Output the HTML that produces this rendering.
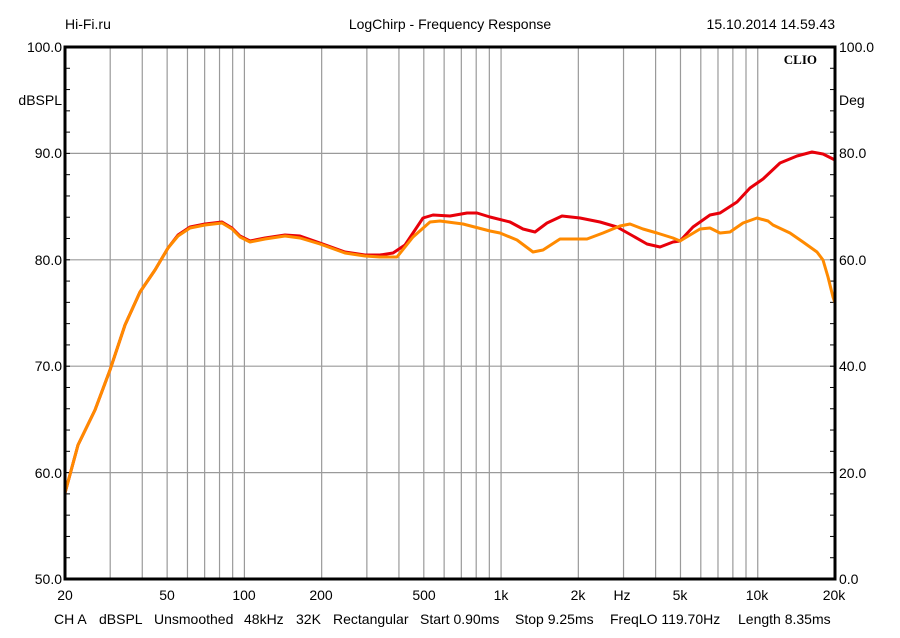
<!DOCTYPE html>
<html><head><meta charset="utf-8"><style>
body{margin:0;background:#fff}
svg text{font-family:"Liberation Sans",Arial,sans-serif;font-size:14px;fill:#000}
</style></head><body>
<svg width="900" height="633" viewBox="0 0 900 633" xmlns="http://www.w3.org/2000/svg">
<rect width="900" height="633" fill="#fff"/>
<g id="grid" stroke="#9a9a9a" stroke-width="1.2"></g>
<g id="ticks" stroke="#000" stroke-width="1"></g>
<polyline fill="none" stroke="#e8000a" stroke-width="3" stroke-linejoin="round" points="65,493 78,445 95,410 110,370 125,325 140,292 155,270 168,248 178,235 190,227 205,224 222,222 232,228 240,236 250,241 265,238 285,235 300,236 320,243 345,252 365,255 380,255 393,253 405,245 423,218 433,215 450,216 467,213 477,213 490,217 510,222 523,229 535,232 547,223 562,216 580,218 600,222 617,227 633,236 647,244 660,247 673,242 680,241 693,227 710,215 720,213 737,202 750,188 763,179 780,163 797,156 812,152 823,154 835,160"/>
<polyline fill="none" stroke="#ff8a00" stroke-width="3" stroke-linejoin="round" points="65,493 78,445 95,410 110,370 125,325 140,292 155,270 168,248 178,236 190,228 205,225 222,223 232,229 240,237 250,242 265,239 285,236 300,238 320,244 345,253 365,256 380,257 397,257 413,237 430,222 440,221 463,224 490,231 500,233 517,240 533,252 543,250 560,239 580,239 587,239 603,233 620,226 630,224 643,229 657,233 673,238 680,241 700,229 710,228 720,233 730,232 743,223 757,218 768,221 773,225 790,233 803,242 817,252 823,260 828,277 833,297 835,303"/>
<rect x="65" y="47" width="770" height="532" fill="none" stroke="#000" stroke-width="3"/>
<text x="65" y="29">Hi-Fi.ru</text>
<text x="450" y="29" text-anchor="middle">LogChirp - Frequency Response</text>
<text x="835" y="29" text-anchor="end">15.10.2014 14.59.43</text>
<text x="62" y="52" text-anchor="end">100.0</text>
<text x="62" y="105" text-anchor="end">dBSPL</text>
<text x="62" y="158" text-anchor="end">90.0</text>
<text x="62" y="265" text-anchor="end">80.0</text>
<text x="62" y="371" text-anchor="end">70.0</text>
<text x="62" y="478" text-anchor="end">60.0</text>
<text x="62" y="584" text-anchor="end">50.0</text>
<text x="839" y="52">100.0</text>
<text x="839" y="105">Deg</text>
<text x="839" y="158">80.0</text>
<text x="839" y="265">60.0</text>
<text x="839" y="371">40.0</text>
<text x="839" y="478">20.0</text>
<text x="839" y="584">0.0</text>
<text x="817" y="64" text-anchor="end" style="font-family:'Liberation Serif',serif;font-weight:bold;font-size:13px">CLIO</text>
<g text-anchor="middle">
<text x="65" y="600">20</text><text x="167" y="600">50</text><text x="244" y="600">100</text><text x="321" y="600">200</text><text x="424" y="600">500</text><text x="501" y="600">1k</text><text x="578" y="600">2k</text><text x="622" y="600">Hz</text><text x="680" y="600">5k</text><text x="757" y="600">10k</text><text x="834" y="600">20k</text>
</g>
<text x="54" y="624">CH A</text>
<text x="99" y="624">dBSPL</text>
<text x="154" y="624">Unsmoothed</text>
<text x="244" y="624">48kHz</text>
<text x="296" y="624">32K</text>
<text x="333" y="624">Rectangular</text>
<text x="420" y="624">Start 0.90ms</text>
<text x="515" y="624">Stop 9.25ms</text>
<text x="610" y="624">FreqLO 119.70Hz</text>
<text x="738" y="624">Length 8.35ms</text>
</svg>
<script>
var g=document.getElementById('grid'),t=document.getElementById('ticks'),ns='http://www.w3.org/2000/svg';
function L(p,x1,y1,x2,y2){var l=document.createElementNS(ns,'line');l.setAttribute('x1',x1);l.setAttribute('y1',y1);l.setAttribute('x2',x2);l.setAttribute('y2',y2);p.appendChild(l);}
var fs=[];for(var d=10;d<=10000;d*=10)for(var m=1;m<10;m++){var f=m*d;if(f>20&&f<20000)fs.push(f);}
fs.forEach(function(f){var x=65+Math.log10(f/20)*256.67;L(g,x,47,x,579);});
for(var i=1;i<5;i++){var y=47+i*106.4;L(g,65,y,835,y);}
for(var i=1;i<25;i++){var y=47+i*21.28;L(t,65,y,70,y);L(t,830,y,835,y);}
</script>
</body></html>
